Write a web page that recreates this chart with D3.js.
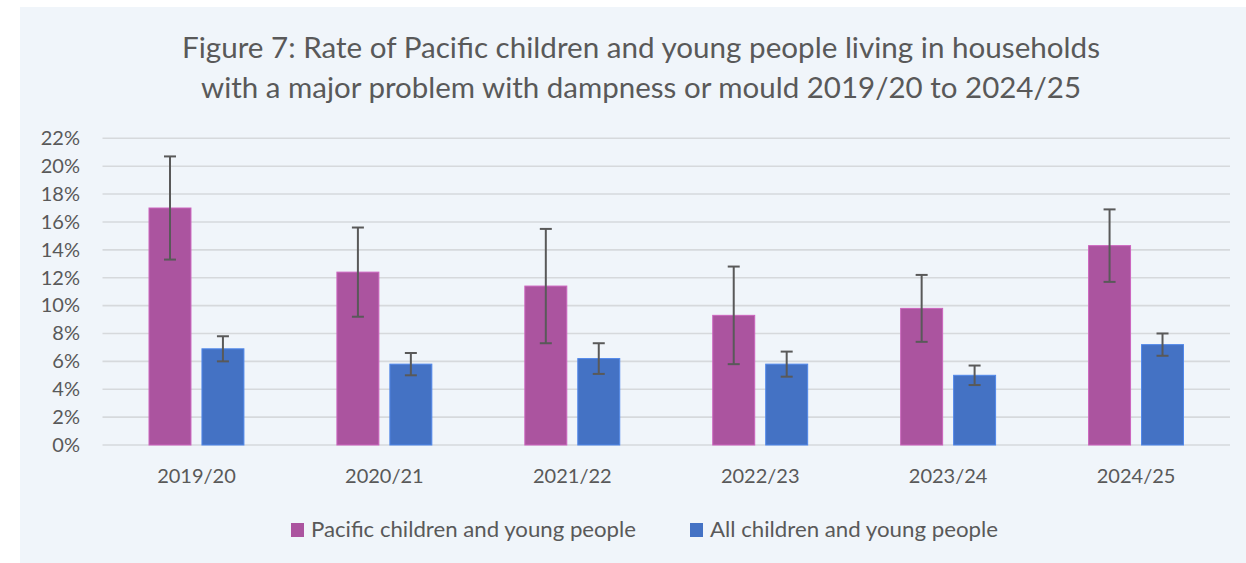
<!DOCTYPE html>
<html>
<head>
<meta charset="utf-8">
<script src="https://cdn.jsdelivr.net/npm/d3@7"></script>
<style>
  html, body { margin: 0; padding: 0; background: #ffffff; }
  svg { display: block; }
  text { font-family: Lato, "Open Sans", sans-serif; fill: #595959; }
</style>
</head>
<body>
<svg id="chart" width="1246" height="563"></svg>
<script>
// ---- Data ----
const categories = ["2019/20", "2020/21", "2021/22", "2022/23", "2023/24", "2024/25"];
const seriesNames = ["Pacific children and young people", "All children and young people"];
const pacificValues = [17.0, 12.4, 11.4, 9.3, 9.8, 14.3];
const pacificLower  = [13.3, 9.2, 7.3, 5.8, 7.4, 11.7];
const pacificUpper  = [20.7, 15.6, 15.5, 12.8, 12.2, 16.9];
const allValues = [6.9, 5.8, 6.2, 5.8, 5.0, 7.2];
const allLower  = [6.0, 5.0, 5.1, 4.9, 4.3, 6.4];
const allUpper  = [7.8, 6.6, 7.3, 6.7, 5.7, 8.0];
const yTicks = [0, 2, 4, 6, 8, 10, 12, 14, 16, 18, 20, 22];
const titleLines = [
  "Figure 7: Rate of Pacific children and young people living in households",
  "with a major problem with dampness or mould 2019/20 to 2024/25"
];
const colors = ["#AB549F", "#4472C4"];

const series = [
  { name: seriesNames[0], values: pacificValues, lower: pacificLower, upper: pacificUpper, color: colors[0] },
  { name: seriesNames[1], values: allValues, lower: allLower, upper: allUpper, color: colors[1] }
];

// ---- Layout ----
const svg = d3.select("#chart");
const W = 1246, H = 563;
const plot = { left: 102.5, right: 1230, top: 138.3, bottom: 445 };

svg.append("rect").attr("x", 20).attr("y", 7).attr("width", W - 20).attr("height", H - 7)
  .attr("fill", "#F0F5FA");

// Title
const titleWidths = [918, 880];
svg.append("g").selectAll("text").data(titleLines).join("text")
  .attr("x", 641).attr("y", (d, i) => 58 + i * 39.5)
  .attr("text-anchor", "middle")
  .attr("textLength", (d, i) => titleWidths[i])
  .attr("lengthAdjust", "spacingAndGlyphs")
  .style("font-size", "29px")
  .text(d => d);

// Scales
const x0 = d3.scaleBand().domain(categories).range([plot.left, plot.right]).padding(0);
const x1 = d3.scaleBand().domain([0, 1])
  .range([46.5, x0.bandwidth() - 46.5]).paddingInner(0.2075).paddingOuter(0);
const y = d3.scaleLinear().domain([0, 22]).range([plot.bottom, plot.top]);

// Gridlines
svg.append("g").selectAll("line").data(yTicks).join("line")
  .attr("x1", plot.left).attr("x2", plot.right)
  .attr("y1", d => y(d)).attr("y2", d => y(d))
  .attr("stroke", "#D6D9DC").attr("stroke-width", 1.6);

// Y axis labels
const yAxis = d3.axisLeft(y).tickValues(yTicks).tickFormat(d => d + "%").tickSize(0).tickPadding(0);
const gy = svg.append("g").attr("transform", `translate(80,0)`).call(yAxis);
gy.select(".domain").remove();
gy.selectAll("text").style("font-size", "20px").style("font-family", "Lato, 'Open Sans', sans-serif").attr("fill", "#595959");

// X axis labels
const xAxis = d3.axisBottom(x0).tickSize(0).tickPadding(0);
const gx = svg.append("g").attr("transform", `translate(0,${plot.bottom + 24})`).call(xAxis);
gx.select(".domain").remove();
gx.selectAll("text").style("font-size", "20px").style("font-family", "Lato, 'Open Sans', sans-serif").attr("fill", "#595959");

// Bars
const groups = svg.append("g").selectAll("g").data(categories).join("g")
  .attr("transform", d => `translate(${x0(d)},0)`);

series.forEach((s, si) => {
  groups.append("rect")
    .attr("x", x1(si))
    .attr("width", x1.bandwidth())
    .attr("y", (d, i) => y(s.values[i]))
    .attr("height", (d, i) => y(0) - y(s.values[i]))
    .attr("fill", s.color)
    .attr("stroke", d3.color(s.color).brighter(0.5))
    .attr("stroke-width", 1);
});

// Error bars
series.forEach((s, si) => {
  const cx = x1(si) + x1.bandwidth() / 2;
  const eb = groups.append("g").attr("stroke", "#595959").attr("stroke-width", 2);
  eb.append("line").attr("x1", cx).attr("x2", cx)
    .attr("y1", (d, i) => y(s.lower[i])).attr("y2", (d, i) => y(s.upper[i]));
  eb.append("line").attr("x1", cx - 6).attr("x2", cx + 6)
    .attr("y1", (d, i) => y(s.upper[i])).attr("y2", (d, i) => y(s.upper[i]));
  eb.append("line").attr("x1", cx - 6).attr("x2", cx + 6)
    .attr("y1", (d, i) => y(s.lower[i])).attr("y2", (d, i) => y(s.lower[i]));
});

// Legend
const legendX = [291, 690];
const legendWidths = [325, 288];
const legend = svg.append("g").selectAll("g").data(series).join("g")
  .attr("transform", (d, i) => `translate(${legendX[i]},523)`);
legend.append("rect").attr("width", 13).attr("height", 14).attr("fill", d => d.color);
legend.append("text").attr("x", 20).attr("y", 7).attr("dy", "0.35em")
  .attr("textLength", (d, i) => legendWidths[i])
  .attr("lengthAdjust", "spacingAndGlyphs")
  .style("font-size", "21px").text(d => d.name);
</script>
</body>
</html>
